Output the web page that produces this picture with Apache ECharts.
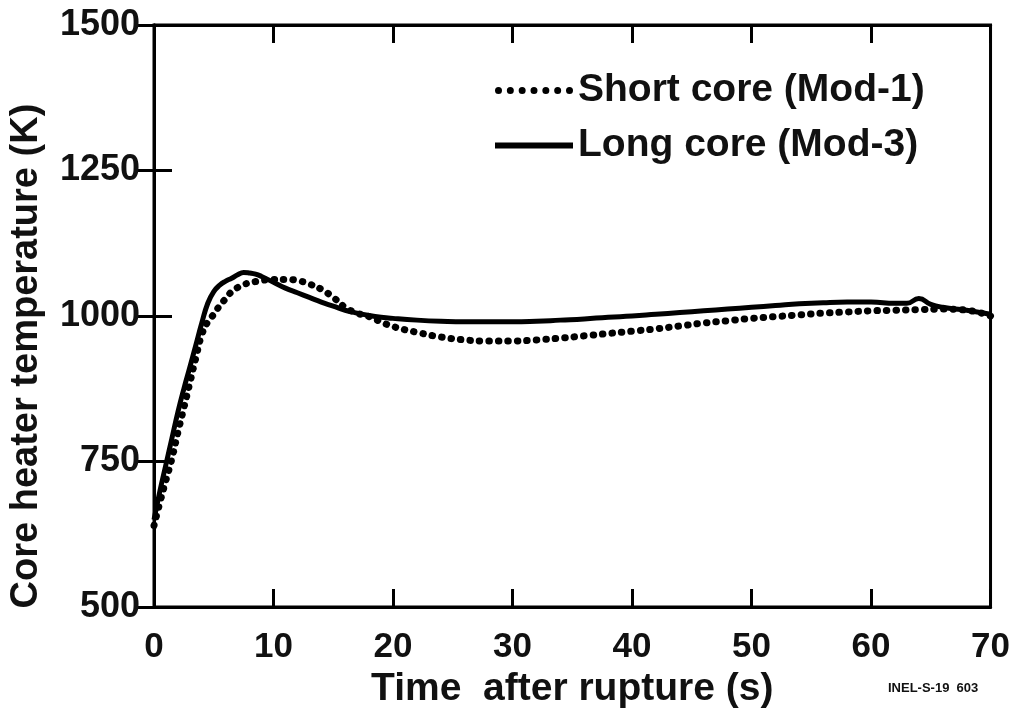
<!DOCTYPE html>
<html>
<head>
<meta charset="utf-8">
<script src="https://cdn.jsdelivr.net/npm/echarts@6/dist/echarts.min.js"></script>
<style>
  html, body { margin: 0; padding: 0; background: #fff; }
  #chart { width: 1013px; height: 714px; }
</style>
</head>
<body>
<div id="chart"></div>
<script>
// Long core (Mod-3) - solid line
var longTime = [0, 0.5, 1, 1.5, 2, 2.5, 3, 3.5, 4, 4.5, 5, 5.5, 6, 6.5, 7, 7.5, 8, 8.5, 9, 10, 11, 12, 13, 14, 15, 16, 17, 18, 19, 20, 22, 24, 26, 28, 30, 32, 34, 36, 38, 40, 42, 44, 46, 48, 50, 52, 54, 56, 58, 60, 62, 63, 64, 65, 66, 68, 70];
var longTemp = [650, 700, 745, 790, 835, 875, 912, 950, 988, 1022, 1042, 1053, 1060, 1065, 1071, 1075, 1074, 1072, 1068, 1058, 1048, 1040, 1032, 1024, 1017, 1010, 1005, 1001, 998, 996, 993, 991, 990, 990, 990, 991, 993, 995, 998, 1000, 1003, 1006, 1009, 1012, 1015, 1018, 1021, 1023, 1024, 1024, 1022, 1022, 1030, 1020, 1015, 1010, 1003];

// Short core (Mod-1) - dotted line
var shortTime = [0, 0.5, 1, 1.5, 2, 2.5, 3, 3.5, 4, 4.5, 5, 5.5, 6, 6.5, 7, 7.5, 8, 9, 10, 11, 12, 13, 14, 15, 16, 17, 18, 19, 20, 22, 24, 26, 28, 30, 32, 34, 36, 38, 40, 42, 44, 46, 48, 50, 52, 54, 56, 58, 60, 62, 64, 66, 68, 70];
var shortTemp = [640, 680, 718, 755, 800, 842, 885, 928, 968, 990, 1003, 1018, 1030, 1042, 1049, 1054, 1057, 1061, 1063, 1063, 1061, 1055, 1046, 1032, 1015, 1005, 999, 990, 982, 972, 964, 959, 957, 957, 959, 962, 966, 970, 974, 978, 983, 988, 992, 996, 999, 1002, 1005, 1007, 1009, 1010, 1011, 1012, 1010, 1000];

var seriesNames = ['Short core (Mod-1)', 'Long core (Mod-3)'];

function pairs(xs, ys) {
  return xs.map(function (x, i) { return [x, ys[i]]; });
}

// legend icons: a row of dots and a thick bar
function dotsPath(n, r, w) {
  var step = (w - 2 * r) / (n - 1), p = 'path://';
  for (var i = 0; i < n; i++) {
    var cx = r + i * step;
    p += 'M' + (cx - r) + ',' + r + 'a' + r + ',' + r + ' 0 1,0 ' + (2 * r) + ',0a' + r + ',' + r + ' 0 1,0 ' + (-2 * r) + ',0Z';
  }
  return p;
}

var chart = echarts.init(document.getElementById('chart'));
var boldFont = 'Liberation Sans, Arial, sans-serif';
var narrowFont = 'Liberation Sans Narrow, Liberation Sans, Arial, sans-serif';

var tick = { inside: true, length: 18, lineStyle: { color: '#000', width: 3 } };
var line = { show: true, lineStyle: { color: '#000', width: 3 } };

var option = {
  backgroundColor: '#fff',
  animation: false,
  grid: {
    left: 152, right: 21, top: 25, bottom: 99,
    show: true, borderColor: '#000', borderWidth: 3
  },
  legend: {
    orient: 'vertical',
    left: 490, top: 66,
    itemWidth: 78, itemHeight: 7, itemGap: 16,
    textStyle: { color: '#111', fontFamily: boldFont, fontWeight: 'bold', fontSize: 39, lineHeight: 38 },
    data: [
      { name: seriesNames[0], icon: dotsPath(7, 3.5, 78), itemStyle: { color: '#000' } },
      { name: seriesNames[1], icon: 'path://M0,0H78V6H0Z', itemStyle: { color: '#000' } }
    ]
  },
  xAxis: [{
    type: 'value', min: 0, max: 70, interval: 10,
    name: 'Time  after rupture (s)', nameLocation: 'middle', nameGap: 56,
    nameTextStyle: { color: '#111', fontFamily: narrowFont, fontWeight: 'bold', fontSize: 39 },
    axisLine: line, axisTick: tick,
    axisLabel: { color: '#111', fontFamily: boldFont, fontWeight: 'bold', fontSize: 35, margin: 23 },
    splitLine: { show: false }
  }, {
    type: 'value', min: 0, max: 70, interval: 10, position: 'top',
    axisLine: line, axisTick: tick,
    axisLabel: { show: false },
    splitLine: { show: false }
  }],
  yAxis: [{
    type: 'value', min: 500, max: 1500, interval: 250,
    name: 'Core heater temperature (K)', nameLocation: 'middle', nameGap: 108,
    nameTextStyle: { color: '#111', fontFamily: boldFont, fontWeight: 'bold', fontSize: 38, padding: [0, 80, 0, 0] },
    axisLine: line, axisTick: tick,
    axisLabel: { color: '#111', fontFamily: boldFont, fontWeight: 'bold', fontSize: 36, margin: 14,
      formatter: function (v) { return String(v); } },
    splitLine: { show: false }
  }, {
    type: 'value', min: 500, max: 1500, interval: 250, position: 'right',
    axisLine: line, axisTick: tick,
    axisLabel: { show: false },
    splitLine: { show: false }
  }],
  graphic: [{
    type: 'text', left: 888, top: 682,
    style: { text: 'INEL-S-19  603', fill: '#111', font: 'bold 13px ' + narrowFont }
  }],
  series: [{
    name: seriesNames[0],
    type: 'line', smooth: true, symbol: 'none',
    xAxisIndex: 0, yAxisIndex: 0,
    itemStyle: { color: '#000' },
    lineStyle: { color: '#000', width: 7, type: [0.5, 9], cap: 'round' },
    data: pairs(shortTime, shortTemp)
  }, {
    name: seriesNames[1],
    type: 'line', smooth: true, symbol: 'none',
    xAxisIndex: 0, yAxisIndex: 0,
    itemStyle: { color: '#000' },
    lineStyle: { color: '#000', width: 5 },
    data: pairs(longTime, longTemp)
  }]
};

chart.setOption(option);
</script>
</body>
</html>
